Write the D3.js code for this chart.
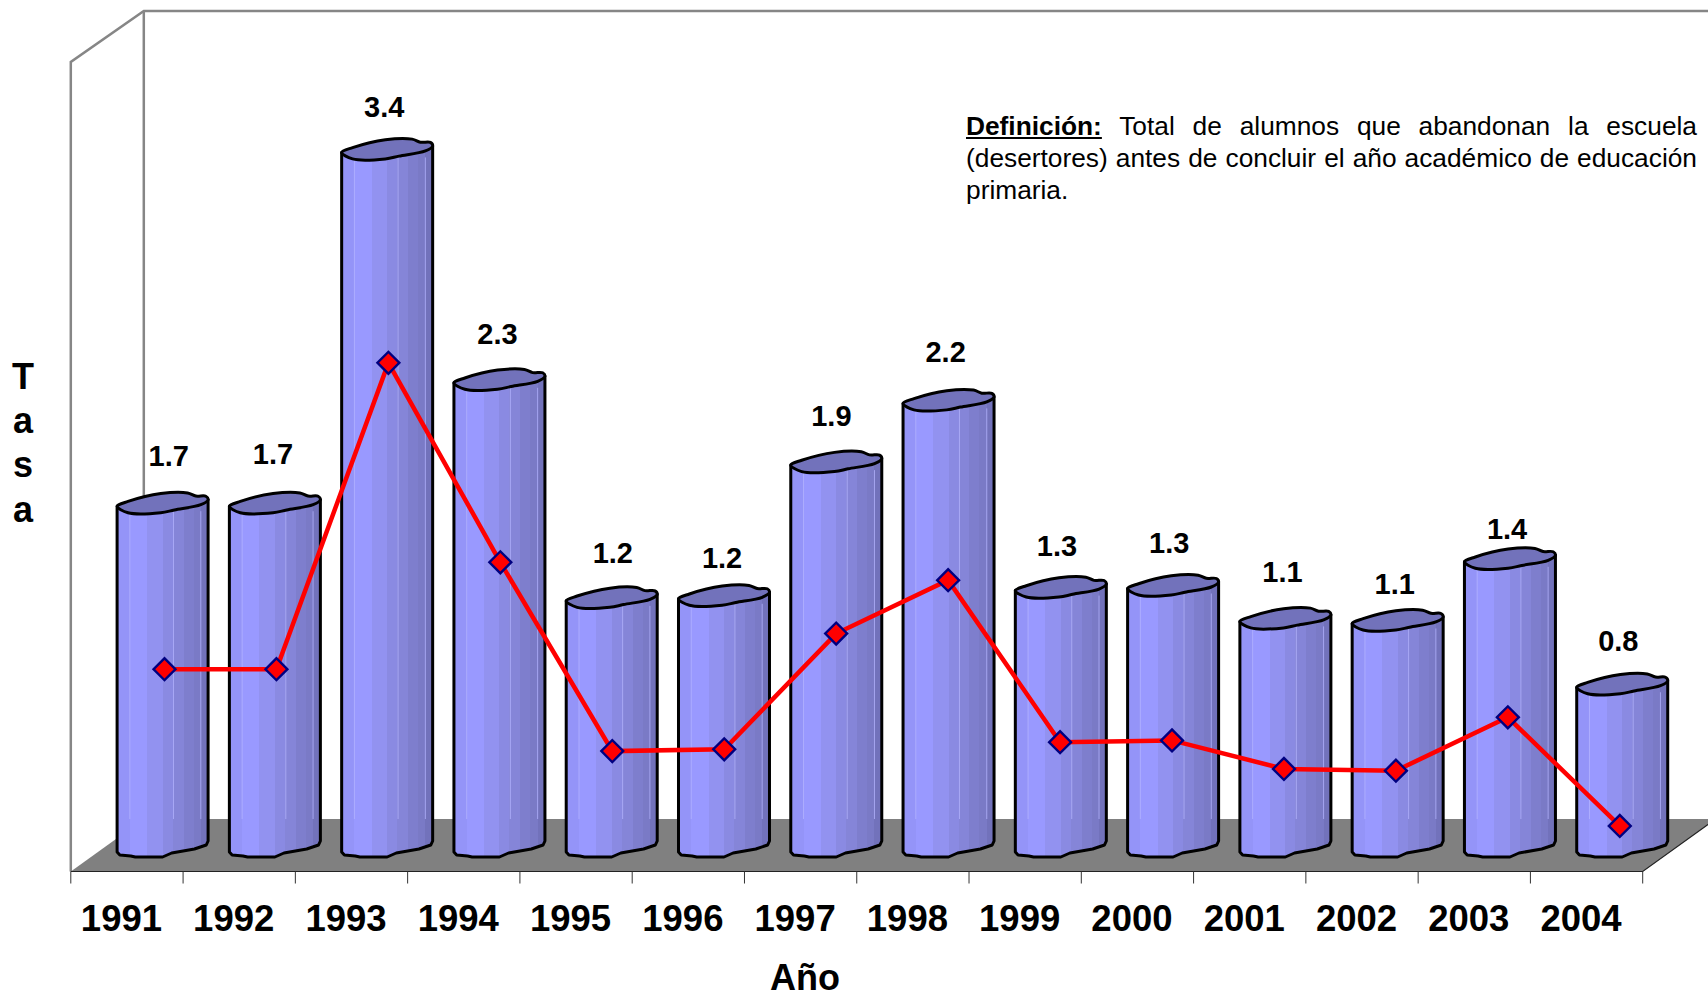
<!DOCTYPE html>
<html lang="es">
<head>
<meta charset="UTF-8">
<title>Tasa de deserción, 1991-2004</title>
<script src="https://d3js.org/d3.v7.min.js"></script>
<style>
  html, body { margin: 0; background: #fff; overflow: hidden; }
  body { position: relative; width: 1708px; height: 992px; font-family: "Liberation Sans", Arial, sans-serif; }
  svg { position: absolute; left: 0; top: 0; }
  svg text { font-family: "Liberation Sans", Arial, sans-serif; font-weight: bold; fill: #000; }
  #definicion {
    position: absolute; left: 966px; top: 110px; width: 731px;
    font-size: 26.3px; line-height: 32px; text-align: justify; color: #000;
  }
  #definicion b { text-decoration: underline; }
</style>
</head>
<body>
<svg width="1708" height="992"></svg>
<div id="definicion"><b>Definición:</b> Total de alumnos que abandonan la escuela (desertores) antes de concluir el año académico de educación primaria.</div>
<script>
const years = ["1991","1992","1993","1994","1995","1996","1997","1998","1999","2000","2001","2002","2003","2004"];
const tasa = [1.68, 1.68, 3.4, 2.28, 1.22, 1.23, 1.88, 2.18, 1.27, 1.28, 1.12, 1.11, 1.41, 0.8];

// small hand nudges for the value labels (they sit unevenly in the original)
const labelDx = [8, 0, -1, 0, 3, 0, -3, -1, -2, -2, -1, -1, -1, -2];
const labelDy = [-40, -42, -35, -39, -38, -31, -39, -41, -35, -36, -39, -29, -23, -36];

// box geometry
const floorFront = 871.5, floorBack = 819, wallLeft = 70.8, wallBack = 143.8;
const wallTopFront = 62, wallTop = 11, rightEnd = 1642.7;
const barOffset = 46.3, barW = 91, barBottom = 857;

const svg = d3.select("svg");
const x = d3.scaleBand().domain(years).range([wallLeft, rightEnd]);
const xLine = d3.scalePoint().domain(years).range([164.5, 1619.8]);
const yBar = d3.scaleLinear().domain([0, 4]).range([851.8, 29]);
const yLine = d3.scaleLinear().domain([0, 4]).range([968.4, 256]);

// stepped fill of the cylinders
const strips = [
  [0, "#9494f8"], [0.14, "#9999ff"], [0.33, "#9292f0"], [0.5, "#8a8ae2"],
  [0.61, "#8585d8"], [0.73, "#7e7ecd"], [0.84, "#7a7ac6"], [0.92, "#7272bb"]
];
const glints = [0.14, 0.62, 0.92];
const grad = svg.append("defs").append("linearGradient").attr("id", "cyl");
strips.forEach((s, i) => {
  grad.append("stop").attr("offset", s[0]).attr("stop-color", s[1]);
  const next = i < strips.length - 1 ? strips[i + 1][0] : 1;
  grad.append("stop").attr("offset", next).attr("stop-color", s[1]);
});

// walls
svg.append("path")
  .attr("d", d3.line()([[wallLeft, floorFront], [wallLeft, wallTopFront], [wallBack, wallTop], [1708, wallTop]]))
  .attr("fill", "none").attr("stroke", "#868686").attr("stroke-width", 2.5);
svg.append("line")
  .attr("x1", wallBack).attr("x2", wallBack).attr("y1", wallTop).attr("y2", floorBack)
  .attr("stroke", "#868686").attr("stroke-width", 2.5);

// floor
svg.append("path")
  .attr("d", d3.line()([[wallLeft, floorFront], [rightEnd, floorFront], [rightEnd + 73, floorBack], [wallBack, floorBack]]) + "Z")
  .attr("fill", "#808080");
svg.append("path")
  .attr("d", d3.line()([[wallLeft, floorFront], [rightEnd, floorFront], [rightEnd + 73, floorBack]]))
  .attr("fill", "none").attr("stroke", "#222").attr("stroke-width", 1.2);

// ticks sit between the years
svg.append("g").selectAll("line")
  .data(years.map(d => x(d)).concat(rightEnd))
  .join("line")
  .attr("x1", d => d).attr("x2", d => d)
  .attr("y1", floorFront).attr("y2", floorFront + 12)
  .attr("stroke", "#333").attr("stroke-width", 1);

const xAxis = svg.append("g")
  .attr("transform", `translate(-5.5,${floorFront + 26})`)
  .call(d3.axisBottom(x).tickSize(0).tickPadding(8));
xAxis.select(".domain").remove();
xAxis.selectAll("text").style("font-size", "36.5px").attr("font-size", null);

// cylinders
const capShape = [[0,0],[.12,-4.8],[.48,-12.7],[.775,-13.3],[.865,-10.2],[.975,-10],[1,-6.5],[.92,-1.5],[.63,3.7],[.48,6.5],[.12,6.5]];
const footShape = [[1,-16],[.98,-12],[.85,-8],[.6,-4],[.5,0],[.2,0],[.15,-1],[.03,-2],[0,-5]];
const capLine = d3.line().curve(d3.curveCatmullRomClosed.alpha(0.5));
const bars = svg.append("g").selectAll("g").data(years).join("g");

bars.append("path")
  .attr("d", (d, i) => {
    const left = x(d) + barOffset, top = yBar(tasa[i]);
    const pts = [[left, top], [left + barW, top - 6.5]]
      .concat(footShape.map(p => [left + p[0] * barW, barBottom + p[1]]));
    return d3.line()(pts) + "Z";
  })
  .attr("fill", "url(#cyl)").attr("stroke", "#000").attr("stroke-width", 3).attr("stroke-linejoin", "round");

// thin light streaks, only above the floor line
glints.forEach(g => {
  bars.append("line")
    .attr("x1", d => x(d) + barOffset + g * barW).attr("x2", d => x(d) + barOffset + g * barW)
    .attr("y1", (d, i) => yBar(tasa[i]) + 5).attr("y2", floorBack)
    .attr("stroke", "#b4b4ff").attr("stroke-opacity", 0.75).attr("stroke-width", 1);
});

bars.append("path")
  .attr("d", (d, i) => {
    const left = x(d) + barOffset, top = yBar(tasa[i]);
    return capLine(capShape.map(p => [left + p[0] * barW, top + p[1]]));
  })
  .attr("fill", "#7272bb").attr("stroke", "#000").attr("stroke-width", 3);

// red line
svg.append("path")
  .datum(years)
  .attr("d", d3.line().x(d => xLine(d)).y((d, i) => yLine(tasa[i])))
  .attr("fill", "none").attr("stroke", "#ff0000").attr("stroke-width", 4.5);

svg.append("g").selectAll("path").data(years).join("path")
  .attr("d", d3.symbol(d3.symbolSquare, 240))
  .attr("transform", (d, i) => `translate(${xLine(d)},${yLine(tasa[i])}) rotate(45)`)
  .attr("fill", "#ff0000").attr("stroke", "#000080").attr("stroke-width", 2.4);

// value labels
svg.append("g").selectAll("text").data(years).join("text")
  .attr("x", (d, i) => x(d) + barOffset + 43.6 + labelDx[i])
  .attr("y", (d, i) => yBar(tasa[i]) + labelDy[i])
  .attr("text-anchor", "middle").style("font-size", "29px")
  .text((d, i) => tasa[i].toFixed(1));

// axis titles
svg.append("text").attr("x", 805).attr("y", 990).attr("text-anchor", "middle")
  .style("font-size", "36px").text("Año");
svg.append("g").selectAll("text").data("Tasa".split("")).join("text")
  .attr("x", 23).attr("y", (d, i) => 389 + i * 44.2)
  .attr("text-anchor", "middle").style("font-size", "36px").text(d => d);
</script>
</body>
</html>
